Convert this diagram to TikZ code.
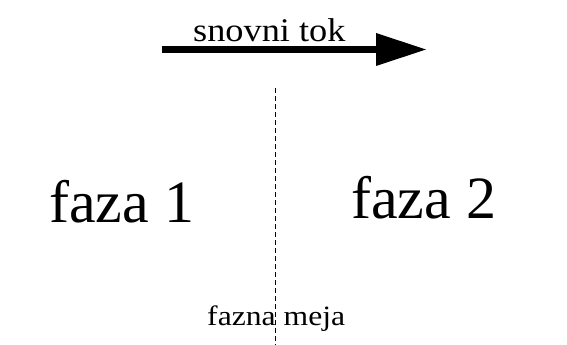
\documentclass[tikz,border=0pt]{standalone}
\usepackage{fontspec}
\setmainfont{Liberation Serif}
\usetikzlibrary{calc}
\begin{document}
\begin{tikzpicture}[x=1pt,y=1pt,
  label/.style={inner sep=0pt, anchor=base west},
  boundary/.style={draw=black, line width=0.8pt, dash pattern=on 5pt off 3pt}]
\useasboundingbox (0,0) rectangle (567,345);
% flow direction arrow
\coordinate (flowstart) at (162,295.5);
\coordinate (headbase) at (376,295.5);
\coordinate (flowtip) at (426,295.5);
\fill[black] ($(flowstart)+(0,-3.7)$) rectangle ($(headbase)+(1,3.7)$);
\fill[black] ($(headbase)+(0,16.5)$) -- (flowtip) -- ($(headbase)+(0,-16.5)$) -- cycle;
\node[label, font=\fontsize{33}{33}\selectfont, xscale=1.1] (flow) at (193,303) {snovni tok};
% phase labels
\node[label, font=\fontsize{60}{60}\selectfont] (ph1) at (49,122) {faza 1};
\node[label, font=\fontsize{60}{60}\selectfont] (ph2) at (351,126) {faza 2};
% phase boundary
\coordinate (btop) at (275.5,257);
\coordinate (bbot) at (275.5,0);
\draw[boundary] (btop) -- (bbot);
\node[label, font=\fontsize{28}{28}\selectfont, xscale=1.13] (bnd) at (207,19) {fazna meja};
\end{tikzpicture}
\end{document}
